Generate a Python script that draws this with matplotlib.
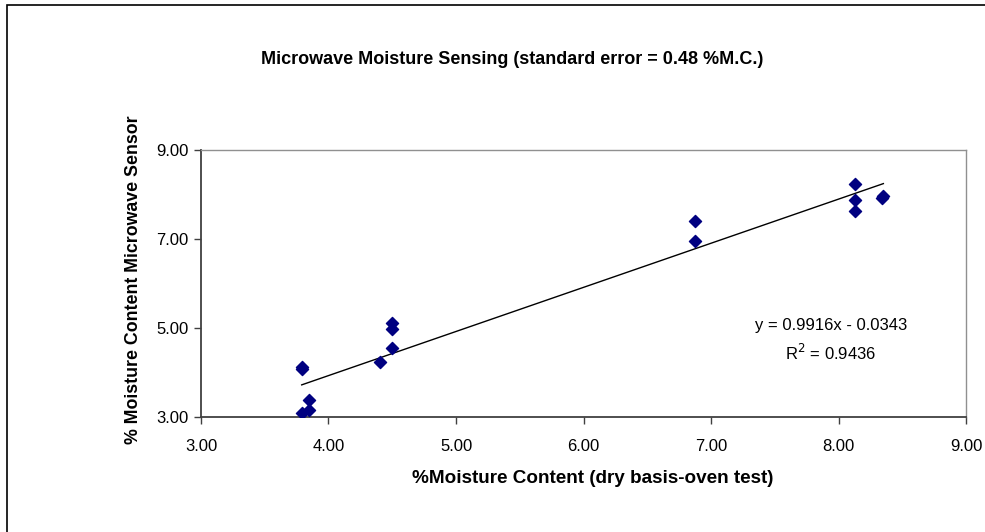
import numpy as np
import matplotlib.pyplot as plt
from matplotlib.patches import Rectangle

plt.rcParams['font.family'] = ['Liberation Sans', 'DejaVu Sans']

# oven-test moisture vs. microwave sensor reading (% M.C.)
oven_mc = [3.79, 3.79, 3.85, 3.79, 3.85, 4.40, 4.50, 4.50, 4.50,
           6.87, 6.87, 8.13, 8.13, 8.13, 8.34, 8.35]
sensor_mc = [4.13, 4.07, 3.38, 3.10, 3.16, 4.24, 4.55, 4.99, 5.12,
             7.40, 6.95, 8.23, 7.87, 7.63, 7.93, 7.96]

# Excel linear trendline
slope = 0.9916
intercept = -0.0343
r_squared = 0.9436

x_ticks = [3, 4, 5, 6, 7, 8, 9]
y_ticks = [3, 5, 7, 9]

fig = plt.figure(figsize=(9.85, 5.32), dpi=100)
ax = fig.add_axes([0.204, 0.216, 0.777, 0.502])

# outer chart border (only left/top show in the crop)
fig.patches.append(Rectangle((7 / 985, -0.1), 1.2, 1 - 5 / 532 + 0.1,
                             transform=fig.transFigure, fill=False,
                             edgecolor='black', linewidth=1.2))

ax.scatter(oven_mc, sensor_mc, marker='D', s=38, color='#000080',
           edgecolors='#000080', zorder=3)

xl = np.array([min(oven_mc), max(oven_mc)])
ax.plot(xl, slope * xl + intercept, color='black', linewidth=1.0, zorder=2)

ax.set_xlim(3, 9)
ax.set_ylim(3, 9)
ax.set_xticks(x_ticks)
ax.set_yticks(y_ticks)
ax.set_xticklabels([f'{v:.2f}' for v in x_ticks])
ax.set_yticklabels([f'{v:.2f}' for v in y_ticks])
ax.tick_params(direction='out', length=5, width=1, color='#404040',
               labelsize=12, pad=4)
ax.tick_params(axis='x', pad=11)

for side in ['left', 'bottom']:
    ax.spines[side].set_color('#404040')
    ax.spines[side].set_linewidth(1.3)
for side in ['top', 'right']:
    ax.spines[side].set_color('#909090')
    ax.spines[side].set_linewidth(1.0)

ax.set_xlabel('%Moisture Content (dry basis-oven test)', fontsize=13.6,
              fontweight='bold', labelpad=11)
ax.set_ylabel('% Moisture Content Microwave Sensor', fontsize=12.8,
              fontweight='bold', labelpad=10)
ax.xaxis.label.set_x(0.512)
ax.yaxis.label.set_y(0.515)

fig.text(0.52, 1 - 59 / 532, 'Microwave Moisture Sensing (standard error = 0.48 %M.C.)',
         ha='center', va='center', fontsize=13, fontweight='bold')

ax.text(7.94, 5.05, f'y = {slope}x - {abs(intercept)}', ha='center', va='center',
        fontsize=12)
ax.text(7.94, 4.45, f'R$^2$ = {r_squared}', ha='center', va='center', fontsize=12)

fig.savefig('out.png', dpi=100)
